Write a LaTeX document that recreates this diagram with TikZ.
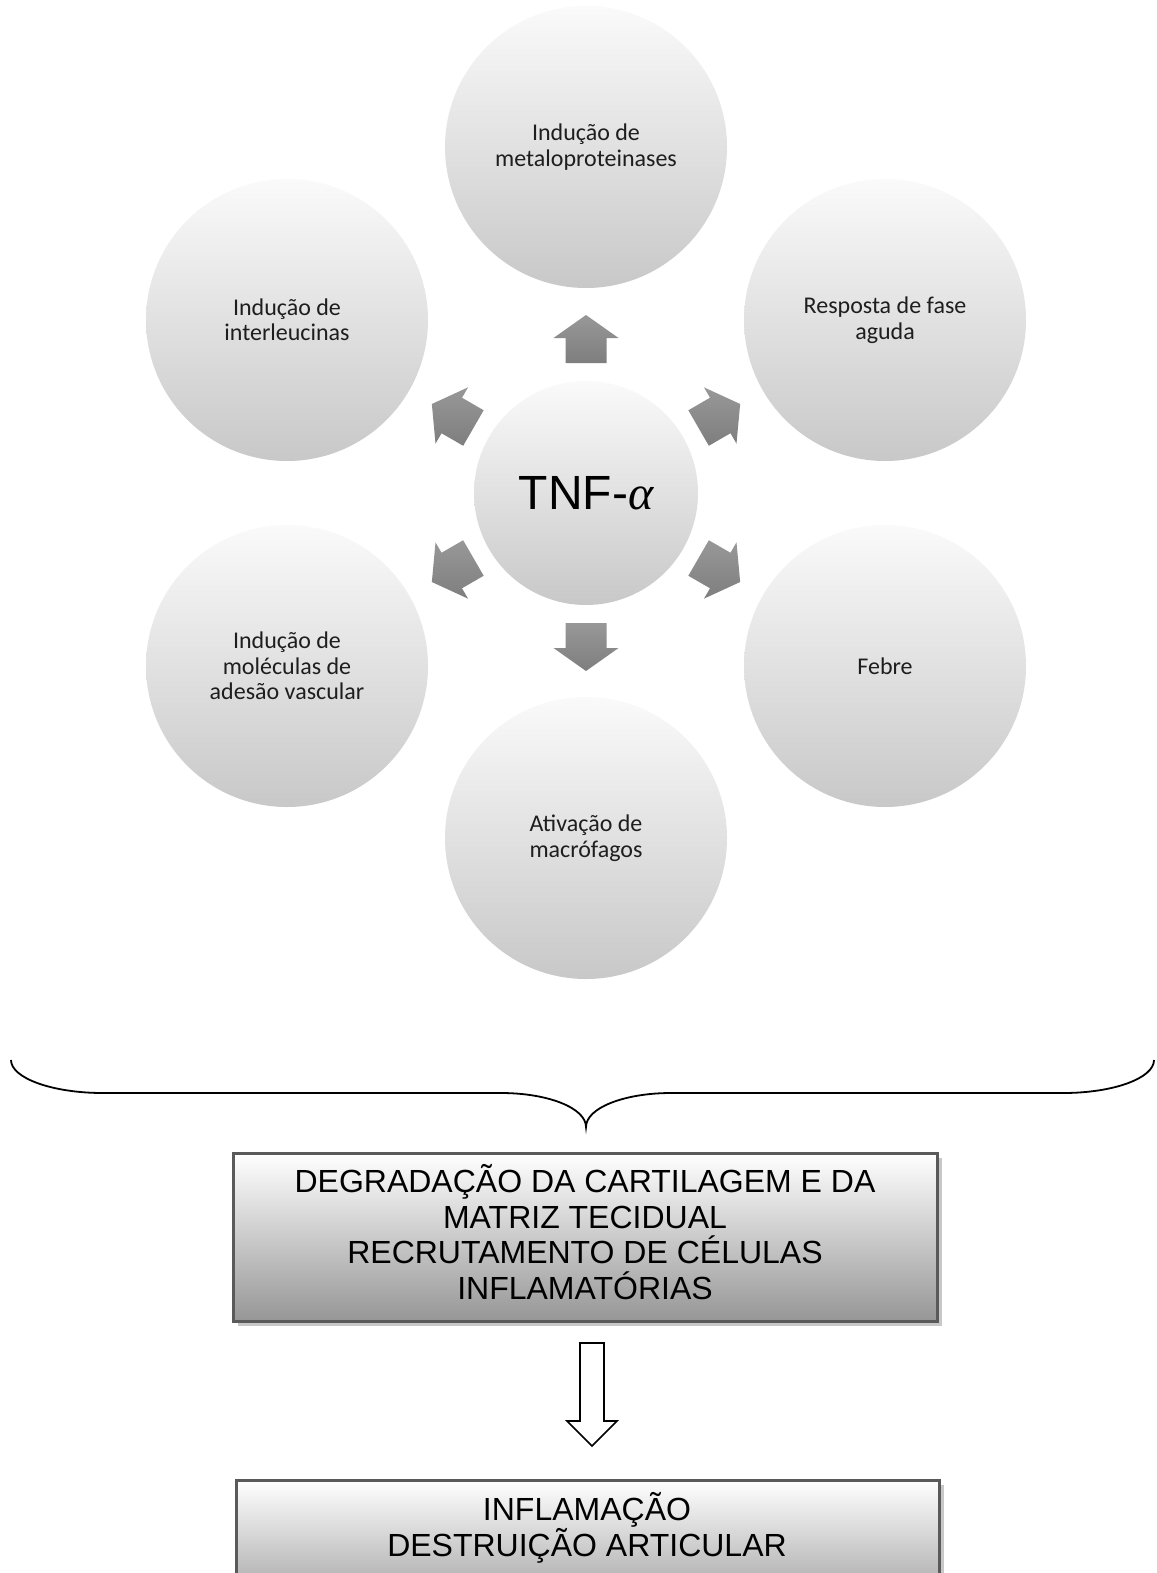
\documentclass[tikz,border=0pt]{standalone}
\usepackage{fontspec}
\setmainfont{Carlito}
\newfontfamily\arialf{Liberation Sans}
\newfontfamily\serifalpha{Liberation Serif}
\usetikzlibrary{calc}
\definecolor{circtop}{RGB}{250,250,250}
\definecolor{circbot}{RGB}{200,200,200}
\definecolor{arrtop}{RGB}{152,152,152}
\definecolor{arrbot}{RGB}{126,126,126}
\definecolor{boxbot}{RGB}{150,150,150}
\definecolor{boxline}{RGB}{90,90,90}
\definecolor{shadowc}{RGB}{200,200,200}
\definecolor{txt}{RGB}{30,30,30}
\begin{document}
\begin{tikzpicture}[x=1pt,y=-1pt,
  bubble/.style={circle, minimum size=282pt, inner sep=0pt, top color=circtop, bottom color=circbot, text=txt, align=center, font=\fontsize{24}{25.5}\selectfont},
  hub/.style={circle, minimum size=224pt, inner sep=0pt, top color=circtop, bottom color=circbot, text=black, font=\arialf\fontsize{48}{50}\selectfont},
  blockarrow/.style={top color=arrtop, bottom color=arrbot, draw=none},
  resultbox/.style={draw=boxline, line width=3pt, top color=white, bottom color=boxbot},
  boxtext/.style={align=center, text=black, font=\arialf\fontsize{32}{35.7}\selectfont},
  bracestyle/.style={draw=black, line width=1.8pt},
  hollowarrow/.style={draw=black, fill=white, line width=1.6pt, line join=miter}
]
\path[use as bounding box, clip] (0,0) rectangle (1156,1573);
\fill[white] (0,0) rectangle (1156,1573);

% hub and surrounding circles
\node[hub] (tnf) at (586,493) {TNF-{\serifalpha\itshape α}};
\node[bubble] (metalo) at (586,147) {Indução de\\metaloproteinases};
\node[bubble] (interl) at (287,320) {Indução de\\interleucinas};
\node[bubble] (resp) at (885,320) {Resposta de fase\\aguda};
\node[bubble] (adesao) at (287,666) {Indução de\\moléculas de\\adesão vascular};
\node[bubble] (febre) at (885,666) {Febre};
\node[bubble] (macro) at (586,838) {Ativação de\\macrófagos};

% block arrows from hub towards each circle
\foreach \t/\a in {metalo/90, resp/30, febre/-30, macro/-90, adesao/210, interl/150}{
  \path[blockarrow, shift={(tnf.center)}, rotate=\a]
    (130,-20.5) -- (155,-20.5) -- (155,-32.5) -- (178,0) -- (155,32.5) -- (155,20.5) -- (130,20.5) -- cycle;
}

% brace
\coordinate (bl) at (11,1060);
\coordinate (br) at (1154,1060);
\coordinate (btip) at (586,1127);
\draw[bracestyle] (bl) .. controls (11,1078) and (52,1093) .. (103,1093) -- (501,1093)
  .. controls (548,1093) and (586,1108) .. (btip)
  .. controls (586,1108) and (624,1093) .. (671,1093) -- (1063,1093)
  .. controls (1114,1093) and (1154,1078) .. (br);

% first result box
\fill[shadowc] (238,1158) rectangle (942,1326);
\node[resultbox, minimum width=704pt, minimum height=168pt, inner sep=0pt] (degr) at (585,1237) {};
\node[boxtext] (degrtext) at (585,1232) {DEGRADAÇÃO DA CARTILAGEM E DA\\MATRIZ TECIDUAL\\RECRUTAMENTO DE CÉLULAS\\INFLAMATÓRIAS};

% second result box
\fill[shadowc] (241,1485) rectangle (944,1620);
\node[resultbox, minimum width=703pt, minimum height=140pt, inner sep=0pt] (infl) at (587.5,1550) {};
\node[boxtext] (infltext) at (587,1528) {INFLAMAÇÃO\\DESTRUIÇÃO ARTICULAR};

% hollow arrow between boxes
\coordinate (ha) at (592,1343);
\coordinate (hb) at (592,1446);
\draw[hollowarrow] (580,1343) -- (604,1343) -- (604,1421) -- (617,1421) -- (hb) -- (567,1421) -- (580,1421) -- cycle;
\end{tikzpicture}
\end{document}
